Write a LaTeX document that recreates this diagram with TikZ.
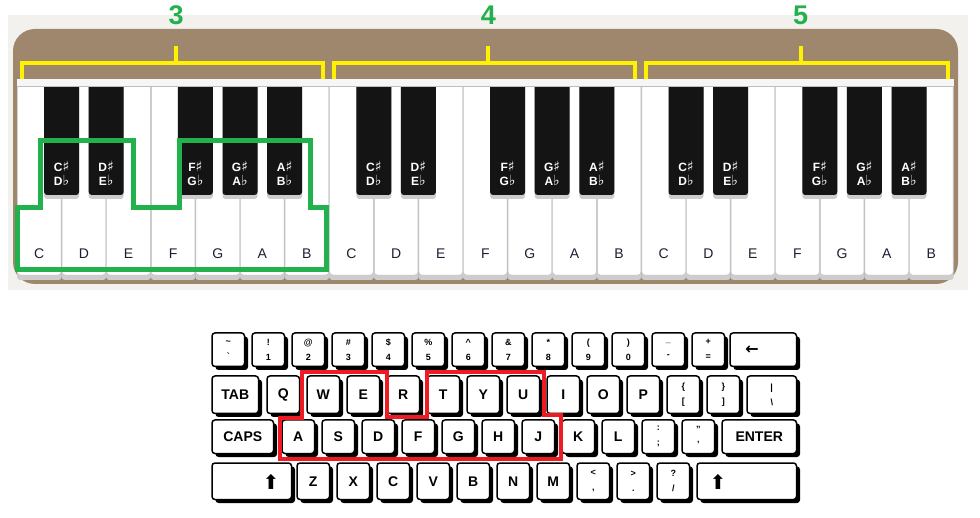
\documentclass[tikz,border=0pt]{standalone}
\usepackage{fontspec}
\setmainfont{Liberation Sans}
\newfontfamily\symfont{DejaVu Sans}
\usetikzlibrary{shadows}

\definecolor{panel}{RGB}{242,241,238}
\definecolor{wood}{RGB}{158,135,108}
\definecolor{stripe}{RGB}{246,246,244}
\definecolor{ebony}{RGB}{20,20,20}
\definecolor{keyshade}{RGB}{205,205,205}
\definecolor{keyline}{RGB}{190,190,190}
\definecolor{notename}{RGB}{30,30,50}
\definecolor{octgreen}{RGB}{34,177,76}
\definecolor{octyellow}{RGB}{255,242,0}
\definecolor{keyred}{RGB}{237,28,36}

\newcommand{\shp}{{\symfont\fontsize{14}{14}\selectfont ♯}}
\newcommand{\flt}{{\symfont\fontsize{14}{14}\selectfont ♭}}

\begin{document}
\begin{tikzpicture}[x=1pt, y=-1pt,
    whitename/.style={text=notename, font=\fontsize{14}{14}\selectfont, inner sep=0pt},
    blackname/.style={text=white, align=center, inner sep=0pt,
        font=\bfseries\fontsize{12}{14}\selectfont},
    octnum/.style={text=octgreen, font=\bfseries\fontsize{27}{27}\selectfont, inner sep=0pt},
    keycap/.style={draw=black, line width=1.5pt, fill=white, rounded corners=3pt,
        drop shadow={shadow xshift=3.5pt, shadow yshift=-3.5pt, opacity=1, fill=black},
        inner sep=0pt, align=center, font=\bfseries\fontsize{14}{14}\selectfont},
    twin/.style={font=\bfseries\fontsize{9}{15}\selectfont},
    glyph/.style={font=\symfont\bfseries\fontsize{16}{16}\selectfont, inner sep=0pt}]

    \def\W{44.6}
    \def\X{17}

    \fill[white] (0,0) rectangle (980,518);
    \useasboundingbox (0,0) rectangle (980,518);

    % panel
    \fill[panel] (8,15) rectangle (968,290);
    \fill[wood, rounded corners=22pt] (13,29) rectangle (958,284);

    % white keys
    \foreach \o in {0,1,2}{
        \foreach \i/\ltr in {0/C, 1/D, 2/E, 3/F, 4/G, 5/A, 6/B}{
            \fill[keyshade, rounded corners=3pt]
                ({\X+(7*\o+\i)*\W},80) rectangle ({\X+(7*\o+\i+1)*\W},280);
            \filldraw[fill=white, draw=keyline, rounded corners=3pt]
                ({\X+(7*\o+\i)*\W+0.5},80) rectangle ({\X+(7*\o+\i+1)*\W-0.5},275);
            \node[whitename] (w\o\i) at ({\X+(7*\o+\i+0.5)*\W},254) {\ltr};
        }
    }

    % black keys
    \foreach \o in {0,1,2}{
        \foreach \b/\nsharp/\nflat in {1/C/D, 2/D/E, 4/F/G, 5/G/A, 6/A/B}{
            \fill[keyshade, rounded corners=3pt]
                ({\X+(7*\o+\b)*\W-17.5},80) rectangle ({\X+(7*\o+\b)*\W+17.5},199);
            \fill[ebony, rounded corners=3pt]
                ({\X+(7*\o+\b)*\W-17.5},80) rectangle ({\X+(7*\o+\b)*\W+17.5},195);
            \node[blackname] (b\o\b) at ({\X+(7*\o+\b)*\W},173) {\nsharp\shp\\\nflat\flt};
        }
    }

    % key tops
    \fill[stripe] (\X,79) rectangle ({\X+21*\W},86);
    \draw[keyline] (\X,86) -- ({\X+21*\W},86);

    % octave brackets
    \foreach \o in {0,1,2}{
        \pgfmathtruncatemacro\oct{\o+3}
        \draw[octyellow, line width=4pt]
            ({\X+7*\o*\W+5},79) -- ({\X+7*\o*\W+5},63)
            -- ({\X+7*(\o+1)*\W-6},63) -- ({\X+7*(\o+1)*\W-6},79);
        \draw[octyellow, line width=4pt]
            ({\X+(7*\o+3.5)*\W+3},63) -- ({\X+(7*\o+3.5)*\W+3},46);
        \node[octnum] (oct\oct) at ({\X+(7*\o+3.5)*\W+3},15) {\oct};
    }

    % octave 3 outline
    \draw[octgreen, line width=5pt]
        (17,208) -- (40,208) -- (40,141) -- (133,141) -- (133,208)
        -- (179,208) -- (179,141) -- (310,141) -- (310,208)
        -- (326,208) -- (326,270) -- (17,270) -- cycle;

    % number row
    \foreach \i/\shf/\base in {
        0/\textasciitilde/\textasciigrave,
        1/!/1,
        2/@/2,
        3/\#/3,
        4/\$/4,
        5/\%/5,
        6/\textasciicircum/6,
        7/\&/7,
        8/*/8,
        9/(/9,
        10/)/0,
        11/\_/-,
        12/+/=
    }{
        \node[keycap, twin, minimum width=32.5pt, minimum height=33.5pt]
            (n\i) at ({228.25+40*\i},349.75) {\shf\\\base};
    }
    \node[keycap, minimum width=66.5pt, minimum height=33.5pt] (back) at (763.25,349.75) {};
    \node[glyph] (larrow) at (752,350) {←};

    % top row
    \node[keycap, minimum width=46.5pt, minimum height=37.5pt] (tab) at (235.25,394.75) {TAB};
    \foreach \i/\ltr in {0/Q, 1/W, 2/E, 3/R, 4/T, 5/Y, 6/U, 7/I, 8/O, 9/P}{
        \node[keycap, minimum width=32.5pt, minimum height=37.5pt]
            (q\i) at ({283.25+40*\i},394.75) {\ltr};
    }
    \node[keycap, twin, minimum width=32.5pt, minimum height=37.5pt]
        (lbrace) at (683.25,394.75) {\{\\{[}};
    \node[keycap, twin, minimum width=32.5pt, minimum height=37.5pt]
        (rbrace) at (723.25,394.75) {\}\\{]}};
    \node[keycap, twin, minimum width=49.5pt, minimum height=37.5pt]
        (pipe) at (771.75,394.75) {|\\\textbackslash};

    % home row
    \node[keycap, minimum width=61.5pt, minimum height=33.5pt] (caps) at (242.75,436.75) {CAPS};
    \foreach \i/\ltr in {0/A, 1/S, 2/D, 3/F, 4/G, 5/H, 6/J, 7/K, 8/L}{
        \node[keycap, minimum width=32.5pt, minimum height=33.5pt]
            (a\i) at ({298.25+40*\i},436.75) {\ltr};
    }
    \node[keycap, twin, minimum width=32.5pt, minimum height=33.5pt]
        (colon) at (658.25,436.75) {:\\;};
    \node[keycap, twin, minimum width=32.5pt, minimum height=33.5pt]
        (quote) at (698.25,436.75) {"\\'};
    \node[keycap, minimum width=74.5pt, minimum height=33.5pt] (enter) at (759.25,436.75) {ENTER};

    % bottom row
    \node[keycap, minimum width=79.5pt, minimum height=36.5pt] (lshift) at (251.75,481.25) {};
    \foreach \i/\ltr in {0/Z, 1/X, 2/C, 3/V, 4/B, 5/N, 6/M}{
        \node[keycap, minimum width=32.5pt, minimum height=36.5pt]
            (z\i) at ({313.25+40*\i},481.25) {\ltr};
    }
    \node[keycap, twin, minimum width=32.5pt, minimum height=36.5pt]
        (less) at (593.25,481.25) {<\\,};
    \node[keycap, twin, minimum width=32.5pt, minimum height=36.5pt]
        (greater) at (633.25,481.25) {>\\.};
    \node[keycap, twin, minimum width=32.5pt, minimum height=36.5pt]
        (quest) at (673.25,481.25) {?\\/};
    \node[keycap, minimum width=99.5pt, minimum height=36.5pt] (rshift) at (746.75,481.25) {};
    \node[glyph, font=\symfont\fontsize{20}{20}\selectfont] (lup) at (271,482) {⬆};
    \node[glyph, font=\symfont\fontsize{20}{20}\selectfont] (rup) at (718,482) {⬆};

    % home keys outline
    \draw[keyred, line width=4.5pt]
        (302,372) -- (387,372) -- (387,417) -- (427,417) -- (427,372)
        -- (544,372) -- (544,415) -- (561,415) -- (561,459)
        -- (280,459) -- (280,418) -- (302,418) -- cycle;
\end{tikzpicture}
\end{document}
